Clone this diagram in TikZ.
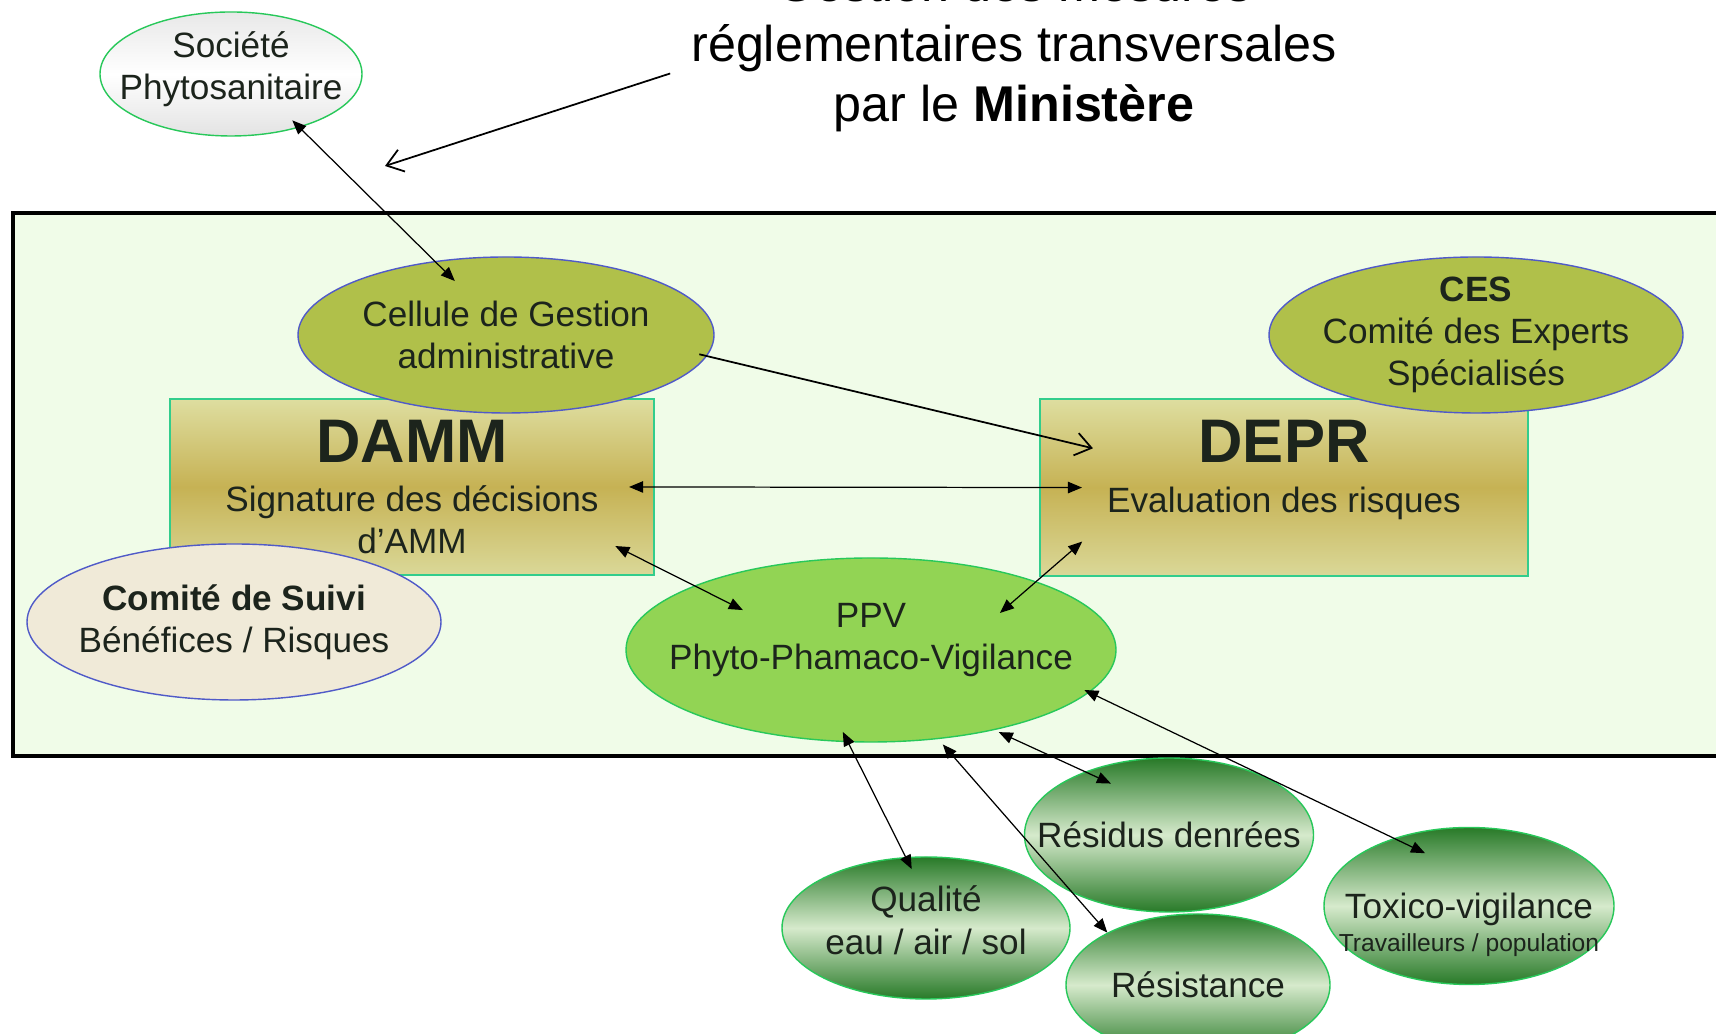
\documentclass[tikz,border=0pt]{standalone}
\usepackage{fontspec}
\setmainfont{Liberation Sans}
\usetikzlibrary{arrows.meta,shapes.geometric,calc}

\definecolor{fondcadre}{RGB}{240,252,232}
\definecolor{vertolive}{RGB}{176,192,74}
\definecolor{bordbleu}{RGB}{80,90,200}
\definecolor{bordvert}{RGB}{50,205,140}
\definecolor{boitehaut}{RGB}{222,222,160}
\definecolor{boitemilieu}{RGB}{198,178,84}
\definecolor{boitebas}{RGB}{218,216,152}
\definecolor{beige}{RGB}{240,234,216}
\definecolor{vertppv}{RGB}{146,212,84}
\definecolor{vertfonce}{RGB}{40,122,40}
\definecolor{vertpale}{RGB}{214,234,204}
\definecolor{bordclair}{RGB}{40,200,90}
\definecolor{encre}{RGB}{28,36,28}

\begin{document}
\begin{tikzpicture}[
  corps/.style={font=\fontsize{20}{24}\selectfont, align=center, text=encre},
  ovale/.style={ellipse, corps, inner xsep=-40pt, inner ysep=-10pt},
  ovalolive/.style={ovale, fill=vertolive, draw=bordbleu, line width=0.8pt},
  boite/.style={rectangle, corps, draw=bordvert, line width=1pt,
    top color=boitehaut, bottom color=boitebas, middle color=boitemilieu},
  bulle/.style={ovale, draw=bordclair, line width=0.8pt,
    top color=vertfonce, bottom color=vertfonce, middle color=vertpale},
  fleche/.style={<->, >={Triangle[length=8pt,width=6.5pt]}, line width=0.7pt},
  ouverte/.style={->, >={Straight Barb[length=9pt,width=13pt]}, line width=1pt}
]
%% page size, same proportions as the slide
\useasboundingbox (0,0) rectangle (34.32,20.68);

%% outside the frame: the company and the title
\node[ovale, draw=bordclair, line width=0.8pt, top color=gray!18, bottom color=gray!22,
  middle color=white, minimum width=5.24cm, minimum height=2.48cm] (soc) at (4.62,19.20)
  {Société\\Phytosanitaire\\[-14pt]~};
\node[font=\fontsize{28.6}{34}\selectfont, align=center] (titre) at (20.28,19.71)
  {Gestion des mesures\\réglementaires transversales\\par le \textbf{Ministère}};
\coordinate (pointe) at (7.70,17.36);

%% the big frame
\draw[line width=1.8pt, fill=fondcadre] (0.26,16.42) rectangle (34.7,5.56);

%% the two directions
\node[boite, minimum width=9.68cm, minimum height=3.52cm] (damm) at (8.24,10.94)
  {{\fontsize{35}{40}\selectfont\bfseries DAMM}\\[4pt]Signature des décisions\\d’AMM};
\node[boite, minimum width=9.76cm, minimum height=3.54cm] (depr) at (25.68,10.93)
  {{\fontsize{35}{40}\selectfont\bfseries DEPR}\\[4pt]Evaluation des risques\\~};

%% committees and cells
\node[ovalolive, minimum width=8.32cm, minimum height=3.12cm] (cellule) at (10.12,13.98)
  {Cellule de Gestion\\administrative};
\node[ovalolive, minimum width=8.28cm, minimum height=3.12cm] (ces) at (29.52,13.98)
  {\textbf{CES}\\Comité des Experts\\Spécialisés};
\node[ovale, fill=beige, draw=bordbleu, line width=0.8pt, minimum width=8.28cm,
  minimum height=3.12cm] (suivi) at (4.68,8.24)
  {\textbf{Comité de Suivi}\\Bénéfices / Risques};
\node[ovale, fill=vertppv, draw=bordclair, line width=0.8pt, minimum width=9.80cm,
  minimum height=3.68cm] (ppv) at (17.42,7.68)
  {PPV\\Phyto-Phamaco-Vigilance\\[-9pt]~};

%% the vigilance networks below the frame
\node[bulle, minimum width=5.76cm, minimum height=2.84cm] (qualite) at (18.52,2.12)
  {Qualité\\eau / air / sol\\[-15pt]~};
\node[bulle, minimum width=5.78cm, minimum height=3.08cm] (residus) at (23.38,3.98)
  {Résidus denrées};
\node[bulle, minimum width=5.28cm, minimum height=2.84cm] (resist) at (23.96,0.98)
  {Résistance};
\node[bulle, minimum width=5.80cm, minimum height=3.14cm] (toxico) at (29.38,2.56)
  {~\\[12pt]Toxico-vigilance\\[-5pt]{\fontsize{14}{16}\selectfont Travailleurs / population}};

%% connectors
\draw[ouverte] ([xshift=-0.3cm,yshift=-0.5cm]titre.west) -- (pointe);
\draw[fleche, shorten <=-5.8pt, shorten >=-16.2pt] (soc.-38.4) -- (cellule.134.6);
\draw[ouverte, shorten <=-4.5pt, shorten >=-31.5pt] (cellule.-6.6) -- (depr.168.7);
\draw[fleche, shorten <=-14.7pt, shorten >=-24.4pt] (damm.east) -- (depr.west);
\draw[fleche, shorten <=-25.2pt, shorten >=-31pt] (damm.-18) -- (ppv.160.4);
\draw[fleche] ($(depr.center)!0.824!(depr.195.7)$) -- ($(ppv.center)!0.659!(ppv.16.1)$);
\draw[fleche, shorten <=-6.6pt, shorten >=-7.7pt] (ppv.256) -- (qualite.106.7);
\draw[fleche, shorten <=4pt] (ppv.307.2) -- (resist.150.3);
\draw[fleche, shorten <=2.7pt, shorten >=-16.3pt] (ppv.327.9) -- (residus.143.2);
\draw[fleche, shorten <=-3.2pt, shorten >=-19.8pt] (ppv.349.9) -- (toxico.138.5);
%\draw[help lines] (0,0) grid (34,20);
\end{tikzpicture}
\end{document}
